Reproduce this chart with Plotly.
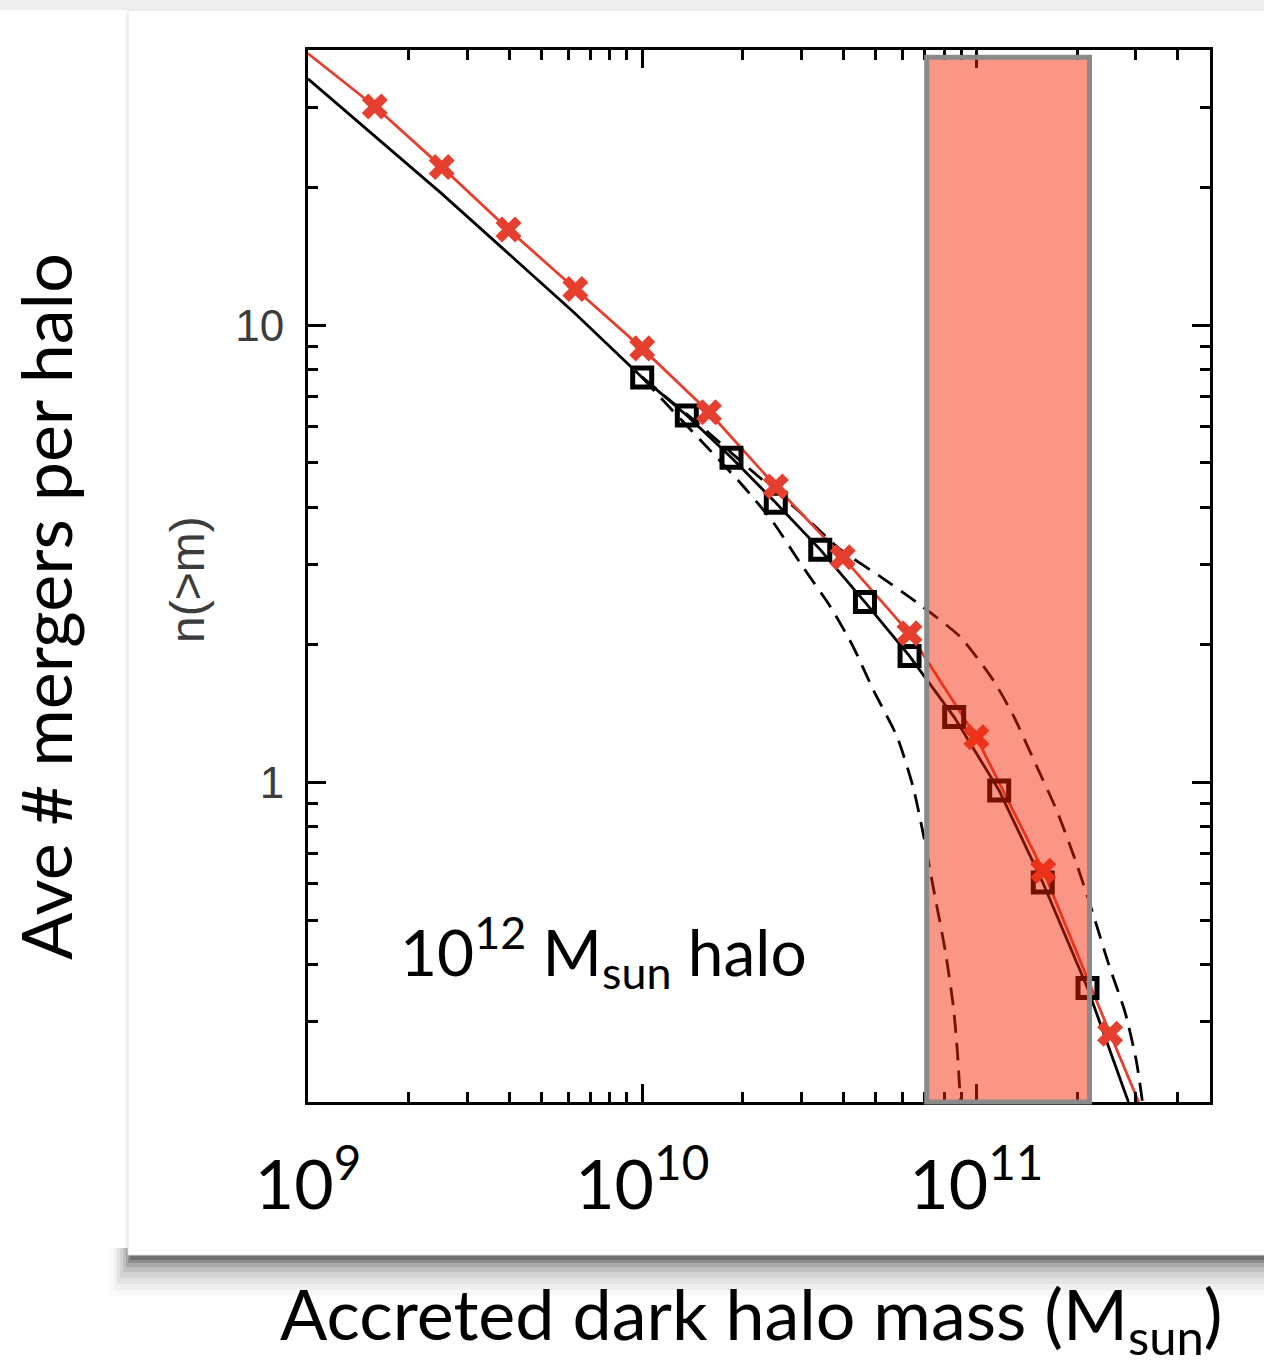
import numpy as np
import plotly.graph_objects as go

# Cumulative number of accreted subhaloes n(>m) for a 1e12 Msun host halo

# red model: values at every 0.2 dex, with crosses
red_mass = [1.0e9, 1.585e9, 2.512e9, 3.981e9, 6.310e9, 1.0e10, 1.585e10,
            2.512e10, 3.981e10, 6.310e10, 1.0e11, 1.585e11, 2.512e11]
red_n = [39.3, 30.1, 22.2, 16.2, 12.0, 8.90, 6.45, 4.44, 3.11, 2.12, 1.255, 0.641, 0.282]
red_tail_mass = [3.06e11]
red_tail_n = [0.2]

# merger-tree points (open squares)
sq_mass = [1.0e10, 1.36e10, 1.85e10, 2.51e10, 3.41e10, 4.64e10, 6.31e10,
           8.58e10, 1.17e11, 1.58e11, 2.15e11]
sq_n = [7.69, 6.35, 5.13, 4.09, 3.23, 2.48, 1.89, 1.39, 0.96, 0.604, 0.355]

# black solid fit
blk_head_mass = [1.0e9, 2.512e9, 6.31e9]
blk_head_n = [34.6, 19.4, 10.6]
blk_tail_mass = [2.85e11]
blk_tail_n = [0.2]

# dashed envelopes
up_mass = [1.0e10, 1.49e10, 2.11e10, 2.91e10, 3.92e10, 5.16e10, 6.66e10, 8.96e10,
           1.125e11, 1.29e11, 1.51e11, 1.74e11, 1.97e11, 2.21e11, 2.48e11, 2.79e11,
           3.01e11, 3.14e11]
up_n = [7.69, 6.04, 4.83, 3.95, 3.23, 2.82, 2.47, 2.08, 1.67, 1.40, 1.09, 0.868,
        0.681, 0.529, 0.403, 0.313, 0.246, 0.2]

lo_mass = [1.0e10, 1.17e10, 1.49e10, 2.01e10, 2.47e10, 2.97e10, 3.66e10, 4.28e10,
           4.92e10, 5.80e10, 6.47e10, 6.93e10, 7.43e10, 8.07e10, 8.53e10, 8.77e10,
           8.96e10]
lo_n = [7.69, 6.78, 5.62, 4.44, 3.70, 3.02, 2.42, 1.98, 1.59, 1.255, 0.975, 0.773,
        0.589, 0.428, 0.324, 0.258, 0.2]

# highlighted mass band
band_mass = [7.1e10, 2.18e11]

# axis ticks
x_range = [1e9, 5e11]
y_range = [0.2, 40]
x_tick_vals = [1e9, 1e10, 1e11]
x_tick_text = ["10<sup>9</sup>", "10<sup>10</sup>", "10<sup>11</sup>"]
y_tick_vals = [1, 10]
y_tick_text = ["1", "10"]

W, H = 1264, 1371
ML, MR, MT, MB = 308, 54, 50, 269
PW, PH = W - ML - MR, H - MT - MB


def px(p):
    return (p - ML) / PW


def py(p):
    return (H - MB - p) / PH


def mass_to_paper(m):
    lo, hi = np.log10(x_range[0]), np.log10(x_range[1])
    return (np.log10(m) - lo) / (hi - lo)


RED = "#e5402f"
BIG_FONT = "Lato"
SMALL_FONT = "Liberation Sans"
DASH = "18px,10px"

fig = go.Figure()

fig.add_trace(go.Scatter(x=blk_head_mass + sq_mass + blk_tail_mass,
                         y=blk_head_n + sq_n + blk_tail_n, mode="lines",
                         line=dict(color="black", width=2.8), hoverinfo="skip"))
fig.add_trace(go.Scatter(x=up_mass, y=up_n, mode="lines",
                         line=dict(color="black", width=2.8, dash=DASH,
                                   shape="spline", smoothing=0.6),
                         hoverinfo="skip"))
fig.add_trace(go.Scatter(x=lo_mass, y=lo_n, mode="lines",
                         line=dict(color="black", width=2.8, dash=DASH,
                                   shape="spline", smoothing=0.6),
                         hoverinfo="skip"))
fig.add_trace(go.Scatter(x=red_mass + red_tail_mass, y=red_n + red_tail_n, mode="lines",
                         line=dict(color=RED, width=2.8), hoverinfo="skip"))
fig.add_trace(go.Scatter(x=sq_mass, y=sq_n, mode="markers",
                         marker=dict(symbol="square-open", size=19, color="black",
                                     line=dict(width=5, color="black")),
                         hoverinfo="skip"))
fig.add_trace(go.Scatter(x=red_mass, y=red_n, mode="markers",
                         marker=dict(symbol="x", size=23, color=RED, line=dict(width=0)),
                         hoverinfo="skip", cliponaxis=False))

shapes = []
# slide panel with a soft drop shadow below it
shapes.append(dict(type="rect", xref="paper", yref="paper", layer="below",
                   x0=px(-10), x1=px(W + 10), y0=py(0), y1=py(10),
                   fillcolor="#eeeeee", line=dict(width=0)))
for (x0, y1, a) in [(110, 1296, 0.025), (114, 1290, 0.035), (117, 1284, 0.05),
                    (120, 1278, 0.07), (123, 1272, 0.09), (126, 1267, 0.12),
                    (128, 1263, 0.16), (130, 1260, 0.2)]:
    shapes.append(dict(type="rect", xref="paper", yref="paper", layer="below",
                       x0=px(x0), x1=px(W + 10), y0=py(y1), y1=py(1248),
                       fillcolor=f"rgba(0,0,0,{a})", line=dict(width=0)))
shapes.append(dict(type="rect", xref="paper", yref="paper", layer="below",
                   x0=px(125), x1=px(W + 10), y0=py(1256), y1=py(14),
                   fillcolor="rgba(0,0,0,0.04)", line=dict(width=0)))
shapes.append(dict(type="rect", xref="paper", yref="paper", layer="below",
                   x0=px(128), x1=px(W + 10), y0=py(1255), y1=py(10),
                   fillcolor="white", line=dict(color="#e2e2e2", width=1)))
# mass band
shapes.append(dict(type="rect", xref="paper", yref="paper", layer="above",
                   x0=mass_to_paper(band_mass[0]), x1=mass_to_paper(band_mass[1]),
                   y0=0, y1=0.993, fillcolor="rgba(244,35,0,0.48)",
                   line=dict(color="#8a8a8a", width=5)))

annotations = [
    dict(text="10<sup>12</sup> M<sub>sun</sub> halo", xref="paper", yref="paper",
         x=px(398), y=py(952), xanchor="left", yanchor="middle", showarrow=False,
         font=dict(family=BIG_FONT, size=64, color="black")),
    dict(text="Ave # mergers per halo", xref="paper", yref="paper",
         x=px(45), y=py(607), xanchor="center", yanchor="middle", textangle=-90,
         showarrow=False, font=dict(family=BIG_FONT, size=70, color="black")),
    dict(text="Accreted dark halo mass (M<sub>sun</sub>)", xref="paper", yref="paper",
         x=px(751), y=py(1318), xanchor="center", yanchor="middle", showarrow=False,
         font=dict(family=BIG_FONT, size=70, color="black")),
    dict(text="n(>m)", xref="paper", yref="paper",
         x=px(188), y=py(580), xanchor="center", yanchor="middle", textangle=-90,
         showarrow=False, font=dict(family=SMALL_FONT, size=48, color="#3c3c3c")),
]

x_minor = [m * 10.0 ** d for d in (9, 10, 11) for m in range(2, 10)
           if m * 10.0 ** d <= x_range[1]]
y_minor = [m * 10.0 ** d for d in (-1, 0, 1) for m in range(2, 10)
           if y_range[0] <= m * 10.0 ** d <= y_range[1]]

fig.update_layout(
    width=W, height=H, autosize=False,
    margin=dict(l=ML, r=MR, t=MT, b=MB, pad=0),
    paper_bgcolor="white", plot_bgcolor="rgba(0,0,0,0)",
    showlegend=False, shapes=shapes, annotations=annotations,
    xaxis=dict(type="log", range=list(np.log10(x_range)), tickmode="array",
               tickvals=x_tick_vals, ticktext=x_tick_text,
               ticks="inside", ticklen=18, tickwidth=3, tickcolor="black",
               showline=True, linewidth=3, linecolor="black", mirror="ticks",
               showgrid=False, zeroline=False, ticklabelstandoff=22,
               tickfont=dict(family=BIG_FONT, size=68, color="black"),
               minor=dict(tickmode="array", tickvals=x_minor, ticks="inside",
                          ticklen=10, tickwidth=2.5, tickcolor="black", showgrid=False)),
    yaxis=dict(type="log", range=list(np.log10(y_range)), tickmode="array",
               tickvals=y_tick_vals, ticktext=y_tick_text,
               ticks="inside", ticklen=18, tickwidth=3, tickcolor="black",
               showline=True, linewidth=3, linecolor="black", mirror="ticks",
               showgrid=False, zeroline=False, ticklabelstandoff=12,
               tickfont=dict(family=SMALL_FONT, size=44, color="#3c3c3c"),
               minor=dict(tickmode="array", tickvals=y_minor, ticks="inside",
                          ticklen=10, tickwidth=2.5, tickcolor="black", showgrid=False)),
)

fig.write_html("out.html")
